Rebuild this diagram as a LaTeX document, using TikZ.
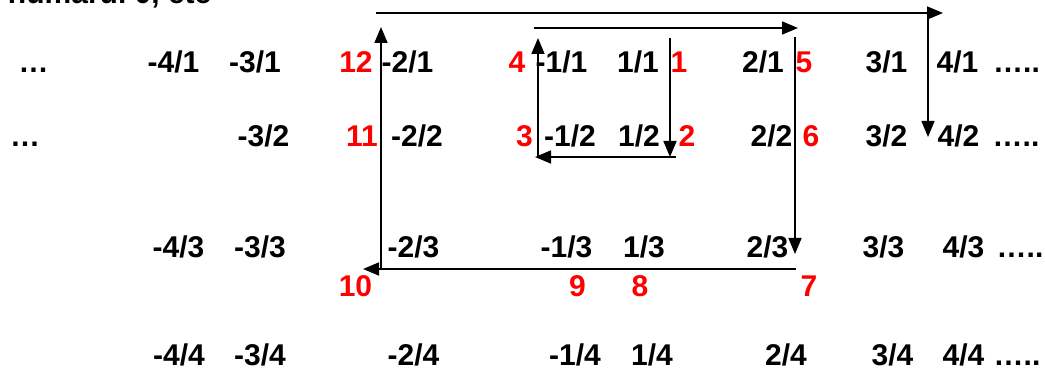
\documentclass[tikz,border=0pt]{standalone}
\usepackage{fontspec}
\setmainfont{Liberation Sans}
\usetikzlibrary{arrows.meta}
\definecolor{numred}{RGB}{255,0,0}
\tikzset{
  lbl/.style={anchor=base, inner sep=0pt, outer sep=0pt, font=\fontsize{30}{30}\selectfont\bfseries, text=black},
  rlbl/.style={lbl, text=numred},
  path/.style={line width=1.6pt, draw=black},
  parr/.style={path, -{Triangle[length=16pt,width=13pt]}}
}
\begin{document}
\begin{tikzpicture}[x=1pt,y=-1pt]
\useasboundingbox (0,0) rectangle (1045,371);
\clip (0,0) rectangle (1045,371);
\fill[white] (0,0) rectangle (1045,371);
% cut-off heading
\node[lbl, anchor=base west] (head) at (8,4) {numărul 0, etc};
% row 1
\node[lbl] (r1a) at (33.5,73) {…};
\node[lbl] (m41) at (173.5,73) {-4/1};
\node[lbl] (m31) at (255,73) {-3/1};
\node[rlbl] (n12) at (356,73) {12};
\node[lbl] (m21) at (407.5,73) {-2/1};
\node[rlbl] (n4) at (517,73) {4};
\node[lbl] (m11) at (561.5,73) {-1/1};
\node[lbl] (p11) at (638,73) {1/1};
\node[rlbl] (n1) at (679,73) {1};
\node[lbl] (p21) at (763,73) {2/1};
\node[rlbl] (n5) at (804,73) {5};
\node[lbl] (p31) at (886.5,73) {3/1};
\node[lbl] (p41) at (957.5,73) {4/1};
\node[lbl] (r1b) at (1016.5,73) {…..};
% row 2
\node[lbl] (r2a) at (25,147) {…};
\node[lbl] (m32) at (263.5,147) {-3/2};
\node[rlbl] (n11) at (362,147) {11};
\node[lbl] (m22) at (417,147) {-2/2};
\node[rlbl] (n3) at (524.5,147) {3};
\node[lbl] (m12) at (570,147) {-1/2};
\node[lbl] (p12) at (639,147) {1/2};
\node[rlbl] (n2) at (687,147) {2};
\node[lbl] (p22) at (771.5,147) {2/2};
\node[rlbl] (n6) at (811,147) {6};
\node[lbl] (p32) at (886.5,147) {3/2};
\node[lbl] (p42) at (958.5,147) {4/2};
\node[lbl] (r2b) at (1016,147) {…..};
% row 3
\node[lbl] (m43) at (178.5,258) {-4/3};
\node[lbl] (m33) at (260,258) {-3/3};
\node[lbl] (m23) at (413.5,258) {-2/3};
\node[lbl] (m13) at (566.5,258) {-1/3};
\node[lbl] (p13) at (644,258) {1/3};
\node[lbl] (p23) at (767.5,258) {2/3};
\node[lbl] (p33) at (883.5,258) {3/3};
\node[lbl] (p43) at (963.5,258) {4/3};
\node[lbl] (r3b) at (1020,258) {…..};
% red row under row 3
\node[rlbl] (n10) at (355.5,297) {10};
\node[rlbl] (n9) at (577.5,297) {9};
\node[rlbl] (n8) at (640,297) {8};
\node[rlbl] (n7) at (809,297) {7};
% row 4
\node[lbl] (m44) at (179,366) {-4/4};
\node[lbl] (m34) at (260,366) {-3/4};
\node[lbl] (m24) at (413.5,366) {-2/4};
\node[lbl] (m14) at (575,366) {-1/4};
\node[lbl] (p14) at (652,366) {1/4};
\node[lbl] (p24) at (786,366) {2/4};
\node[lbl] (p34) at (892.5,366) {3/4};
\node[lbl] (p44) at (963.5,366) {4/4};
\node[lbl] (r4b) at (1017,366) {…..};
% path coordinates
\coordinate (a1s) at (670,38);  \coordinate (a1e) at (670,157);
\coordinate (a2s) at (676,157); \coordinate (a2e) at (535,157);
\coordinate (a3s) at (538,157); \coordinate (a3e) at (538,38);
\coordinate (a4s) at (534,28);  \coordinate (a4e) at (798,28);
\coordinate (a5s) at (795,37);  \coordinate (a5e) at (795,254);
\coordinate (a6s) at (796,269); \coordinate (a6e) at (363,269);
\coordinate (a7s) at (381,269); \coordinate (a7e) at (381,27);
\coordinate (a8s) at (376,13);  \coordinate (a8e) at (943,13);
\coordinate (a9s) at (928,19);  \coordinate (a9e) at (928,137);
\draw[parr] (a1s) -- (a1e);
\draw[parr] (a2s) -- (a2e);
\draw[parr] (a3s) -- (a3e);
\draw[parr] (a4s) -- (a4e);
\draw[parr] (a5s) -- (a5e);
\draw[parr] (a6s) -- (a6e);
\draw[parr] (a7s) -- (a7e);
\draw[parr] (a8s) -- (a8e);
\draw[parr] (a9s) -- (a9e);
\end{tikzpicture}
\end{document}
